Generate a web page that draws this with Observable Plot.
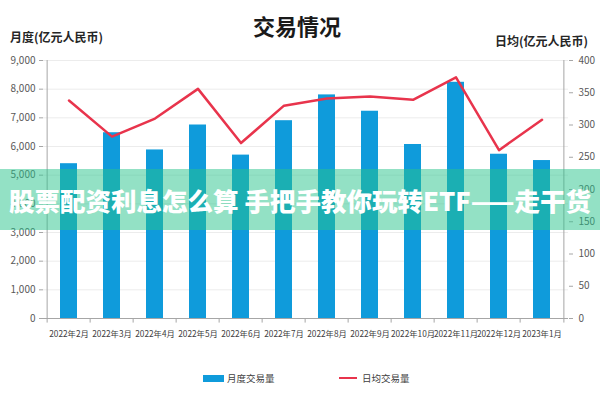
<!DOCTYPE html>
<html>
<head>
<meta charset="utf-8">
<script src="https://cdn.jsdelivr.net/npm/d3@7"></script>
<script src="https://cdn.jsdelivr.net/npm/@observablehq/plot@0.6"></script>
<style>
  html, body { margin: 0; padding: 0; background: #fff; }
  #wrap { position: relative; width: 600px; height: 400px; overflow: hidden; font-family: "Noto Sans CJK SC", "Noto Sans", sans-serif; }
  #wrap svg { position: absolute; left: 0; top: 0; }
  .title { position: absolute; top: 9px; left: 0; width: 594px; text-align: center; font-size: 22px; font-weight: bold; color: #1a1a1a; }
  .ylab { position: absolute; font-size: 12px; font-weight: bold; color: #262626; }
  .legend { position: absolute; top: 371px; font-size: 9.5px; color: #404040; display: flex; align-items: center; }
  .banner { position: absolute; left: 0; top: 169px; width: 600px; height: 61px; background: rgba(40, 196, 140, 0.5); color: #fff; font-weight: 900; font-size: 25.5px; line-height: 61px; text-align: center; white-space: nowrap; }
</style>
</head>
<body>
<div id="wrap">
  <div class="title">交易情况</div>
  <div class="ylab" style="left:10px; top:28px;">月度(亿元人民币)</div>
  <div class="ylab" style="right:12px; top:32px;">日均(亿元人民币)</div>
  <div class="legend" style="left:203px;"><span style="display:inline-block;width:21px;height:7px;background:#0f9bdb;margin-right:3px;"></span>月度交易量</div>
  <div class="legend" style="left:339px;"><span style="display:inline-block;width:18px;height:2.5px;background:#e8344c;margin-right:5px;"></span>日均交易量</div>
  <div class="banner">股票配资利息怎么算 手把手教你玩转ETF——走干货</div>
</div>
<script>
const months = ["2022年2月","2022年3月","2022年4月","2022年5月","2022年6月","2022年7月","2022年8月","2022年9月","2022年10月","2022年11月","2022年12月","2023年1月"];
const monthly = [5400, 6480, 5880, 6750, 5700, 6900, 7800, 7230, 6070, 8240, 5730, 5510];
const daily = [338, 282, 310, 356, 272, 330, 341, 344, 339, 374, 261, 308];
const leftTicks = [0, 1000, 2000, 3000, 4000, 5000, 6000, 7000, 8000, 9000];
const rightTicks = [0, 50, 100, 150, 200, 250, 300, 350, 400];

const leftMax = 9000, rightMax = 400;
const k = leftMax / rightMax;

const data = months.map((m, i) => ({month: m, monthly: monthly[i], daily: daily[i]}));

const W = 600, ML = 43, MR = 32;
const half = (W - ML - MR) / months.length / 2;

const chart = Plot.plot({
  width: W,
  height: 400,
  marginTop: 60,
  marginBottom: 82,
  marginLeft: ML,
  marginRight: MR,
  style: {fontFamily: "'Noto Sans CJK SC', 'Noto Sans', sans-serif", fontSize: "10px", color: "#595959", background: "transparent"},
  x: {domain: months, paddingInner: 0.6, paddingOuter: 0.3, label: null},
  y: {domain: [0, leftMax], label: null},
  marks: [
    Plot.ruleY(leftTicks.slice(1), {stroke: "#ececec", strokeWidth: 1}),
    Plot.barY(data, {x: "month", y: "monthly", fill: "#0f9bdb"}),
    Plot.line(data, {x: "month", y: d => d.daily * k, stroke: "#e8344c", strokeWidth: 2.5, curve: "linear"}),
    Plot.axisY(leftTicks, {anchor: "left", tickFormat: d3.format(","), tickSize: 4, tickPadding: 4, stroke: "#a6a6a6", fill: "#595959", fontSize: 10, label: null}),
    Plot.axisY(rightTicks.map(v => v * k), {anchor: "right", tickFormat: d => Math.round(d / k), tickSize: 4, tickPadding: 6, stroke: "#a6a6a6", fill: "#595959", fontSize: 10, label: null}),
    Plot.axisX({tickSize: 0, tickPadding: 13, fill: "#404040", fontSize: 8.3, label: null}),
    Plot.ruleX([0], {x: () => months[0], y1: 0, y2: leftMax, dx: -half, stroke: "#a6a6a6"}),
    Plot.ruleX([0], {x: () => months[months.length - 1], y1: 0, y2: leftMax, dx: half, stroke: "#a6a6a6"}),
    Plot.ruleY([0], {stroke: "#a6a6a6"}),
    Plot.ruleX(months, {x: d => d, y1: 0, y2: -160, dx: -half, stroke: "#a6a6a6"}),
    Plot.ruleX([months[months.length - 1]], {x: d => d, y1: 0, y2: -160, dx: half, stroke: "#a6a6a6"})
  ]
});
const wrap = document.getElementById("wrap");
wrap.insertBefore(chart, wrap.firstChild);
</script>
</body>
</html>
